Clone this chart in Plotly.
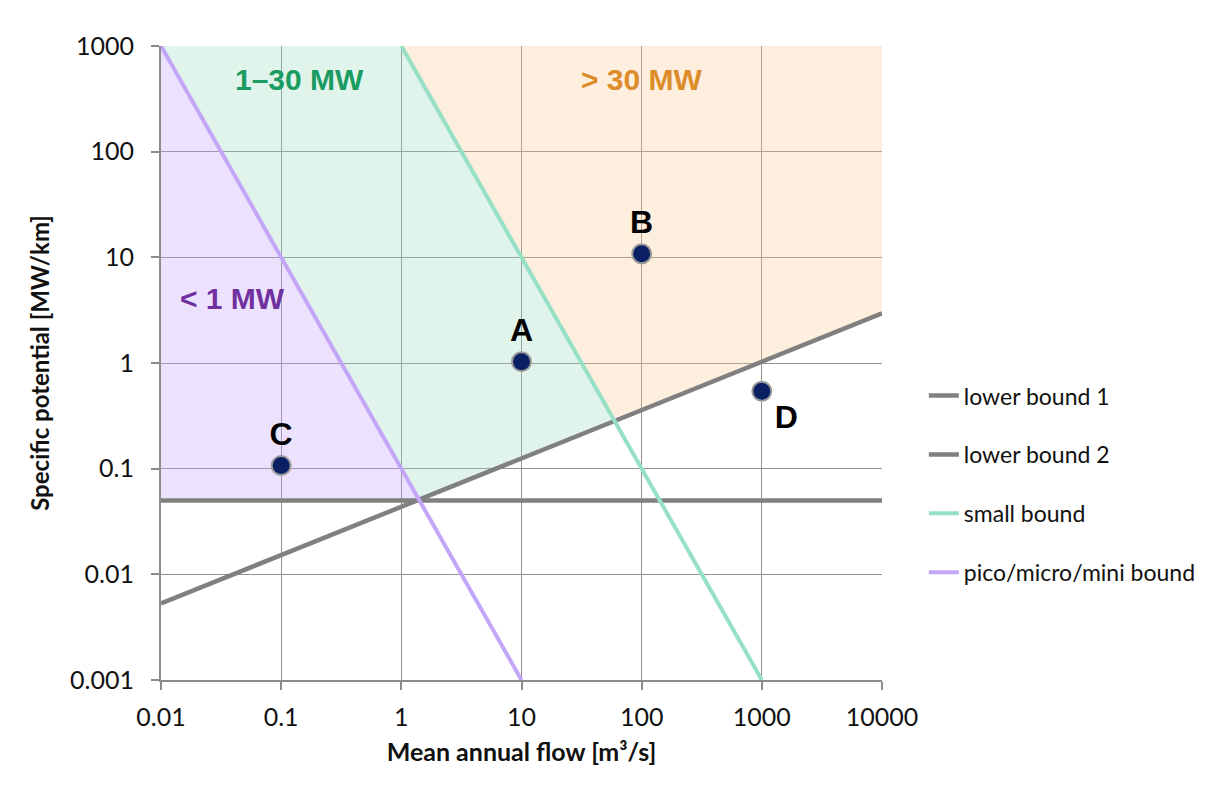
import numpy as np
import plotly.graph_objects as go

# ---------------- data ----------------
flow_ticks = [0.01, 0.1, 1, 10, 100, 1000, 10000]
flow_labels = ["0.01", "0.1", "1", "10", "100", "1000", "10000"]
pot_ticks = [0.001, 0.01, 0.1, 1, 10, 100, 1000]
pot_labels = ["0.001", "0.01", "0.1", "1", "10", "100", "1000"]

lb1_x = [0.01, 10000]
lb1_y = [0.05, 0.05]
lb2_x = [0.01, 10000]
lb2_y = [0.0053, 2.95]
small_x = [1, 1000]
small_y = [1000, 0.001]
pico_x = [0.01, 10]
pico_y = [1000, 0.001]

site_names = ["A", "B", "C", "D"]
site_flow = [10, 100, 0.1, 1000]
site_pot = [1.03, 10.8, 0.107, 0.54]
site_textpos = ["top center", "top center", "top center", "bottom right"]

region_names = ["< 1 MW", "1\u201330 MW", "> 30 MW"]

# ---------------- geometry helpers (log space) ----------------
XMIN, XMAX = np.log10(flow_ticks[0]), np.log10(flow_ticks[-1])
YMIN, YMAX = np.log10(pot_ticks[0]), np.log10(pot_ticks[-1])


def logline(xs, px, py):
    lx, ly = np.log10(px), np.log10(py)
    slope = (ly[1] - ly[0]) / (lx[1] - lx[0])
    return ly[0] + slope * (xs - lx[0])


gx = np.linspace(XMIN, XMAX, 4001)
L1 = logline(gx, lb1_x, lb1_y)
L2 = logline(gx, lb2_x, lb2_y)
SM = logline(gx, small_x, small_y)
PI = logline(gx, pico_x, pico_y)
floor = np.maximum(L1, L2)

regions = [
    (np.minimum(YMAX, PI), floor, "rgba(192,158,248,0.30)"),
    (np.minimum(YMAX, SM), np.maximum(floor, PI), "rgba(152,218,192,0.30)"),
    (np.full_like(gx, YMAX), np.maximum(floor, SM), "rgba(248,198,142,0.30)"),
]

fig = go.Figure()

for up, lo, col in regions:
    m = up > lo
    xs = np.concatenate([gx[m], gx[m][::-1]])
    ys = np.concatenate([up[m], lo[m][::-1]])
    fig.add_trace(go.Scatter(
        x=10 ** xs, y=10 ** ys, mode="lines", line=dict(width=0),
        fill="toself", fillcolor=col, showlegend=False, hoverinfo="skip"))

lines = [
    ("lower bound 1", lb1_x, lb1_y, "#808080", 4.5),
    ("lower bound 2", lb2_x, lb2_y, "#808080", 4.5),
    ("small bound", small_x, small_y, "#96e0c6", 4),
    ("pico/micro/mini bound", pico_x, pico_y, "#c4a6f8", 4),
]
for name, xs, ys, col, w in lines:
    fig.add_trace(go.Scatter(
        x=xs, y=ys, mode="lines", name=name, legendgroup=name,
        line=dict(color=col, width=w)))

fig.add_trace(go.Scatter(
    x=site_flow, y=site_pot, mode="markers+text", text=site_names,
    textposition=site_textpos, showlegend=False, cliponaxis=False,
    textfont=dict(family="Liberation Sans, Arial", size=32, color="black", weight="bold"),
    marker=dict(size=19, color="#0a1f64", line=dict(color="#9a9a9a", width=2))))

# region labels
label_pos = [(0.039, 4.1, "#7030a0"), (0.143, 479, "#1a9b62"), (100, 479, "#dd8c2a")]
for txt, (lx, ly, col) in zip(region_names, label_pos):
    fig.add_annotation(x=np.log10(lx), y=np.log10(ly), text="<b>%s</b>" % txt,
                       showarrow=False, xref="x", yref="y",
                       font=dict(family="Liberation Sans, Arial", size=30, color=col))

axis_common = dict(
    type="log", showgrid=True, gridcolor="#929292", gridwidth=1.3,
    showline=True, linecolor="#8c8c8c", linewidth=2,
    ticks="outside", ticklen=8, tickcolor="#8c8c8c", tickwidth=1.5,
    zeroline=False, tickfont=dict(family="Lato", size=25, color="#111"),
)

fig.update_layout(
    width=1211, height=788, autosize=False,
    margin=dict(l=153, r=337, t=38, b=116),
    paper_bgcolor="white", plot_bgcolor="white",
    xaxis=dict(axis_common, range=[XMIN, XMAX], tickvals=flow_ticks, ticktext=flow_labels,
               ticklabelstandoff=6,
               title=dict(text="<b>Mean annual flow [m³/s]</b>", standoff=13,
                          font=dict(family="Lato", size=25, color="#111"))),
    yaxis=dict(axis_common, range=[YMIN, YMAX], tickvals=pot_ticks, ticktext=pot_labels,
               ticklabelstandoff=12,
               title=dict(text="<b>Specific potential [MW/km]</b>", standoff=14,
                          font=dict(family="Lato", size=24, color="#111"))),
    legend=dict(x=1.058, y=0.309, xanchor="left", yanchor="middle",
                font=dict(family="Lato", size=23, color="#111"),
                tracegroupgap=26, bgcolor="rgba(0,0,0,0)"),
    showlegend=True,
)

fig.write_html("out.html")
